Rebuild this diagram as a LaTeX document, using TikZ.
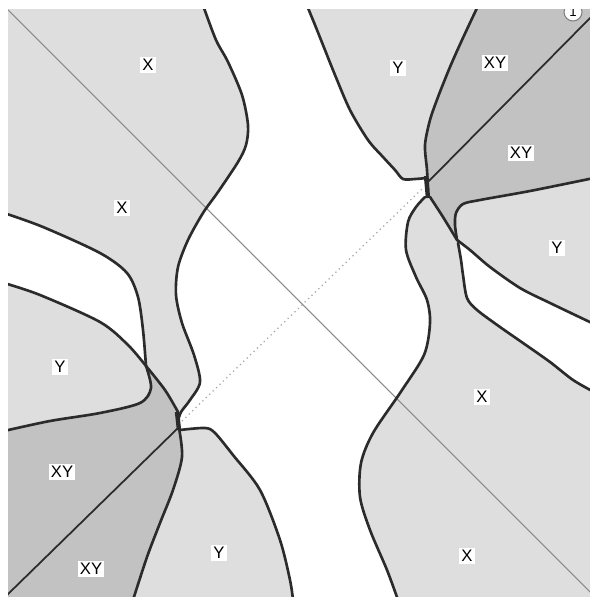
\documentclass[tikz,border=0pt]{standalone}
\usepackage{fontspec}
\setmainfont{Liberation Sans}
\usepackage{tikz}
\usetikzlibrary{positioning, calc}
\definecolor{RegLight}{HTML}{DEDEDE}
\definecolor{RegDark}{HTML}{C2C2C2}
\definecolor{EdgeDark}{HTML}{2B2B2B}
\definecolor{DiagGray}{HTML}{8A8A8A}
\tikzset{
  boundary/.style={draw=EdgeDark, line width=1.5pt, line join=round, line cap=round},
  regionlabel/.style={fill=white, inner sep=1.2pt, text=black, font=\fontsize{9.5}{9.5}\selectfont},
}

\begin{document}
\begin{tikzpicture}[x=0.02cm, y=-0.02cm]
  \useasboundingbox (0,0) rectangle (590,597);
  \fill[white] (0,0) rectangle (590,597);
  \begin{scope}
    \clip (8,10) rectangle (590,597);
    \fill[RegLight] (0,0) rectangle (600,600);
    %% Central white band
    \fill[white] plot[smooth] coordinates {(204,8) (216,40) (228,62) (242,95) (248,125) (246,145) (238,162) (218,192) (203,213) (188,240) (178,267) (176,295) (182,323) (194,355) (200,382) (190,400) (181,412) (178,421)}
      -- plot[smooth] coordinates {(180,430) (205,428) (215,433) (233,455) (260,490) (280,540) (290,580) (293,600)}
      -- plot[smooth] coordinates {(398,600) (387,570) (370,530) (360,497) (361,463) (373,433) (400,393) (424,355) (430,323) (427,300) (416,277) (406,250) (408,222) (416,207) (425,197)}
      -- plot[smooth] coordinates {(427,178) (415,179) (403,179) (395,170) (383,157) (368,140) (350,110) (335,75) (323,45) (315,25) (308,8)}
      -- cycle;
    %% Left white wedge
    \fill[white] plot[smooth] coordinates {(4,213) (43,227) (100,253) (127,273) (138,297) (143,330) (146,366)}
      -- plot[smooth] coordinates {(146,366) (128,345) (100,322) (40,295) (4,283)} -- cycle;
    %% Left XY region
    \fill[RegDark] plot[smooth] coordinates {(4,431) (50,421) (100,413) (140,403) (151,388) (146,366)}
      -- plot[smooth] coordinates {(146,366) (165,390) (178,412)}
      -- plot[smooth] coordinates {(179,428) (182,457) (173,490) (160,523) (147,557) (133,600)}
      -- (4,600) -- cycle;
    %% Right XY region
    \fill[RegDark] plot[smooth] coordinates {(428,190) (427,170) (425,145) (430,120) (438,97) (450,67) (462,40) (477,8)}
      -- (594,8) -- (594,178)
      -- plot[smooth] coordinates {(594,178) (530,191) (480,200) (463,204) (456,213) (455,225) (457,240)}
      -- plot[smooth] coordinates {(457,240) (443,217) (430,197)} -- cycle;
    %% Right white wedge
    \fill[white] plot[smooth] coordinates {(457,240) (470,250) (490,267) (520,288) (550,303) (594,324)}
      -- (594,392)
      -- plot[smooth] coordinates {(594,392) (573,380) (550,362) (523,343) (500,327) (477,310) (467,298) (463,275) (461,260) (458,243)} -- cycle;
    %% Thin diagonal
    \draw[DiagGray, line width=0.6pt] (8,10) -- (592,594);
    %% Dotted link between junctions
    \draw[gray!70, line width=0.7pt, dotted] (182,421) -- (423,188);
    %% XY splitting lines
    \draw[EdgeDark, line width=1pt] (428,182) -- (594,14);
    \draw[EdgeDark, line width=1pt] (178,428) -- (4,598);
    %% Region boundaries
    \draw[boundary] plot[smooth] coordinates {(204,8) (216,40) (228,62) (242,95) (248,125) (246,145) (238,162) (218,192) (203,213) (188,240) (178,267) (176,295) (182,323) (194,355) (200,382) (190,400) (181,412) (178,421)};
    \draw[boundary] plot[smooth] coordinates {(180,430) (205,428) (215,433) (233,455) (260,490) (280,540) (290,580) (293,600)};
    \draw[boundary] plot[smooth] coordinates {(398,600) (387,570) (370,530) (360,497) (361,463) (373,433) (400,393) (424,355) (430,323) (427,300) (416,277) (406,250) (408,222) (416,207) (425,197)};
    \draw[boundary] plot[smooth] coordinates {(427,178) (415,179) (403,179) (395,170) (383,157) (368,140) (350,110) (335,75) (323,45) (315,25) (308,8)};
    \draw[boundary] plot[smooth] coordinates {(4,213) (43,227) (100,253) (127,273) (138,297) (143,330) (146,366)};
    \draw[boundary] plot[smooth] coordinates {(146,366) (128,345) (100,322) (40,295) (4,283)};
    \draw[boundary] plot[smooth] coordinates {(4,431) (50,421) (100,413) (140,403) (151,388) (146,366)};
    \draw[boundary] plot[smooth] coordinates {(146,366) (165,390) (178,412)};
    \draw[boundary] plot[smooth] coordinates {(179,428) (182,457) (173,490) (160,523) (147,557) (133,600)};
    \draw[boundary] plot[smooth] coordinates {(428,190) (427,170) (425,145) (430,120) (438,97) (450,67) (462,40) (477,8)};
    \draw[boundary] plot[smooth] coordinates {(594,178) (530,191) (480,200) (463,204) (456,213) (455,225) (457,240)};
    \draw[boundary] plot[smooth] coordinates {(457,240) (443,217) (430,197)};
    \draw[boundary] plot[smooth] coordinates {(457,240) (470,250) (490,267) (520,288) (550,303) (594,324)};
    \draw[boundary] plot[smooth] coordinates {(594,392) (573,380) (550,362) (523,343) (500,327) (477,310) (467,298) (463,275) (461,260) (458,243)};
    %% Junction blobs
    \draw[EdgeDark, line width=2.5pt] (177,412) -- (179,430);
    \draw[EdgeDark, line width=2.5pt] (426,176) -- (428,198);
    %% Corner badge
    \node[circle, fill=white, draw=gray, line width=0.6pt, minimum size=0.36cm, inner sep=0pt, font=\fontsize{7.5}{7.5}\selectfont] (badge) at (573,12) {1};
  \end{scope}
  %% Region labels
  \node[regionlabel] (xa) at (148,65) {X};
  \node[regionlabel] (xb) at (122,208) {X};
  \node[regionlabel] (ya) at (398,68) {Y};
  \node[regionlabel] (xya) at (495,63) {XY};
  \node[regionlabel] (xyb) at (521,153) {XY};
  \node[regionlabel] (yb) at (557,248) {Y};
  \node[regionlabel] (yc) at (60,367) {Y};
  \node[regionlabel] (xc) at (482,397) {X};
  \node[regionlabel] (xyc) at (62,472) {XY};
  \node[regionlabel] (yd) at (219,553) {Y};
  \node[regionlabel] (xyd) at (91,569) {XY};
  \node[regionlabel] (xd) at (467,556) {X};
\end{tikzpicture}
\end{document}
